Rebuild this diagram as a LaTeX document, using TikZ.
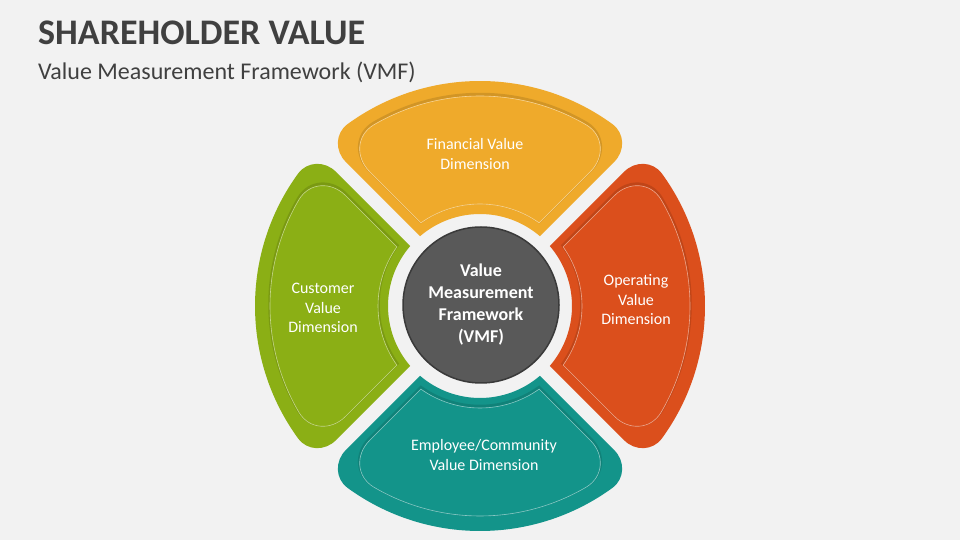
\documentclass[tikz,border=0pt]{standalone}
\usepackage{fontspec}
\setmainfont{Carlito}
\usepackage{xcolor}
\usepackage{tikz}

\definecolor{bgcol}{HTML}{F2F2F2}
\definecolor{titlecol}{HTML}{404040}
\definecolor{fincol}{HTML}{EFAA2B}
\definecolor{opscol}{HTML}{DB4F1C}
\definecolor{empcol}{HTML}{13948A}
\definecolor{cuscol}{HTML}{8BAF15}
\definecolor{hubcol}{HTML}{595959}

\tikzset{
  petal label/.style={text=white, align=center, inner sep=0pt,
    font=\fontsize{16}{19.5}\selectfont},
  hub/.style={circle, fill=hubcol, draw=hubcol!65!black, line width=1.5pt,
    minimum size=156pt, inner sep=0pt, text=white, align=center,
    font=\bfseries\fontsize{18}{22}\selectfont},
  heading/.style={anchor=base west, inner sep=0pt, text=titlecol}
}

% petal pointing up around the origin: inner r, outer r, half gap, corner
\newcommand{\petalset}[4]{%
  \pgfmathsetmacro{\pri}{#1}%
  \pgfmathsetmacro{\pro}{#2}%
  \pgfmathsetmacro{\pai}{135-asin(#3/#1)}%
  \pgfmathsetmacro{\pao}{135-asin(#3/#2)}%
  \pgfmathsetmacro{\pda}{#4/#2*57.296}%
  \pgfmathsetmacro{\pcx}{-#2*cos(\pao)}%
  \pgfmathsetmacro{\pcy}{#2*sin(\pao)}%
  \pgfmathsetmacro{\pr}{#4*0.7071}%
  \pgfmathsetmacro{\pk}{0.448*#4*0.7071}%
  \pgfmathsetmacro{\ptx}{0.448*#4*sin(\pao)}%
  \pgfmathsetmacro{\pty}{-0.448*#4*cos(\pao)}%
}
\newcommand{\petalpath}{(\pai:\pri pt) -- (-\pcx+\pr,\pcy-\pr)
  .. controls (-\pcx+\pk,\pcy-\pk) and (-\pcx+\ptx,\pcy+\pty) .. (\pao-\pda:\pro pt)
  arc[start angle=\pao-\pda, end angle=180-\pao+\pda, radius=\pro pt]
  .. controls (\pcx-\ptx,\pcy+\pty) and (\pcx-\pk,\pcy-\pk) .. (\pcx-\pr,\pcy-\pr)
  -- (180-\pai:\pri pt) arc[start angle=180-\pai, end angle=\pai, radius=\pri pt] -- cycle}

% one coloured petal with its raised inner panel
\newcommand{\petal}[2]{%
  \begin{scope}[shift={(480,234)}, rotate=#1]
    \petalset{92}{225}{7}{28}
    \fill[#2] \petalpath;
    \petalset{102}{210}{17}{36}
    \draw[#2!60!black, opacity=.3, line width=3.5pt,
      xshift={1.5*sin(#1)*1pt}, yshift={1.5*cos(#1)*1pt}] \petalpath;
    \fill[#2] \petalpath;
    \draw[#2!50!white, line width=.6pt] \petalpath;
  \end{scope}}

\begin{document}
\begin{tikzpicture}[x=1pt, y=1pt]
  \fill[bgcol] (0,0) rectangle (960,540);
  \useasboundingbox (0,0) rectangle (960,540);

  % Title
  \node[heading, font=\bfseries\fontsize{36}{40}\selectfont] (title) at (38,495) {SHAREHOLDER VALUE};
  \node[heading, font=\fontsize{24}{28}\selectfont] (subtitle) at (38,460) {Value Measurement Framework (VMF)};

  % Petals
  \petal{0}{fincol}
  \petal{-90}{opscol}
  \petal{180}{empcol}
  \petal{90}{cuscol}

  % Labels
  \node[petal label] (fin) at (475,386) {Financial Value\\Dimension};
  \node[petal label] (ops) at (636,240) {Operating\\Value\\Dimension};
  \node[petal label] (emp) at (484,85) {Employee/Community\\Value Dimension};
  \node[petal label] (cus) at (323,232) {Customer\\Value\\Dimension};

  % Hub
  \node[hub] (vmf) at (481,235) {Value\\Measurement\\Framework\\(VMF)};
\end{tikzpicture}
\end{document}
